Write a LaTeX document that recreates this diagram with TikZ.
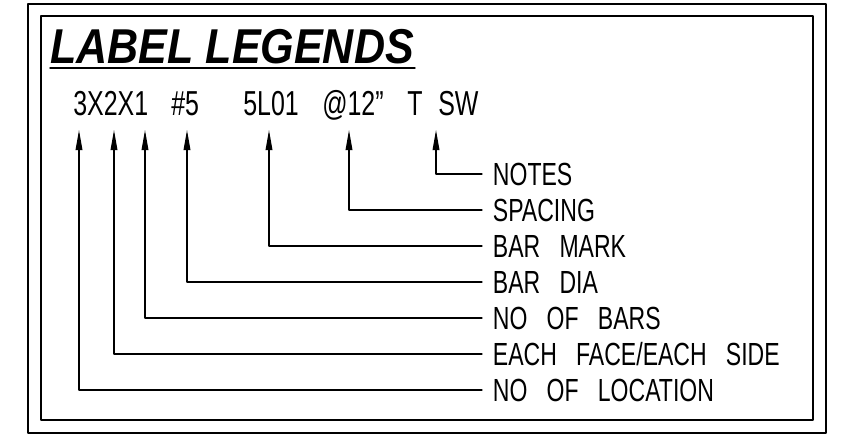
\documentclass[tikz,border=0pt]{standalone}
\usepackage{fontspec}
\usetikzlibrary{arrows.meta}
\newfontfamily\cadfont[FakeStretch=0.72,WordSpace=3]{Liberation Sans}
\newfontfamily\headfont[FakeStretch=0.88]{Liberation Sans}

\begin{document}
\begin{tikzpicture}[x=0.75pt, y=-0.75pt, line cap=round, line join=round,
    frame/.style={line width=1.1pt},
    lead/.style={line width=0.9pt, -{Triangle[length=15pt,width=5pt]}},
    token/.style={inner sep=0pt, anchor=base west, font=\cadfont\fontsize{26}{26}\selectfont},
    legend/.style={inner xsep=8pt, inner ysep=0pt, text height=17.25pt, text depth=0pt,
      anchor=west, font=\cadfont\fontsize{24}{24}\selectfont}]
  \useasboundingbox (0,0) rectangle (855,446);
  \draw[frame] (28,4) rectangle (826,433);
  \draw[frame] (41,16) rectangle (813,420);
  \node[inner sep=0pt, anchor=base west, font=\headfont\bfseries\itshape\fontsize{36.7}{37}\selectfont]
    (title) at (50,63) {LABEL LEGENDS};
  \draw[line width=1.1pt] (title.base west) ++(0,5) -- (415,68);

  \node[token] (loc)  at (73,115)  {3X2X1};
  \node[token] (dia)  at (171,115) {\#5};
  \node[token] (mark) at (243,115) {5L01};
  \node[token] (spc)  at (322,115) {@12”};
  \node[token] (top)  at (407,115) {T};
  \node[token] (sw)   at (438,115) {SW};

  \coordinate (tip1) at (79,130);
  \coordinate (tip2) at (114,130);
  \coordinate (tip3) at (145,130);
  \coordinate (tip4) at (187,130);
  \coordinate (tip5) at (269,130);
  \coordinate (tip6) at (349,130);
  \coordinate (tip7) at (436,130);

  \node[legend] (notes)   at (482,174) {NOTES};
  \node[legend] (spacing) at (482,210) {SPACING};
  \node[legend] (barmark) at (482,246) {BAR MARK};
  \node[legend] (bardia)  at (482,282) {BAR DIA};
  \node[legend] (nobars)  at (482,318) {NO OF BARS};
  \node[legend] (face)    at (482,354) {EACH FACE/EACH SIDE};
  \node[legend] (noloc)   at (482,390) {NO OF LOCATION};

  \draw[lead] (notes.west)   -| (tip7);
  \draw[lead] (spacing.west) -| (tip6);
  \draw[lead] (barmark.west) -| (tip5);
  \draw[lead] (bardia.west)  -| (tip4);
  \draw[lead] (nobars.west)  -| (tip3);
  \draw[lead] (face.west)    -| (tip2);
  \draw[lead] (noloc.west)   -| (tip1);
\end{tikzpicture}
\end{document}
